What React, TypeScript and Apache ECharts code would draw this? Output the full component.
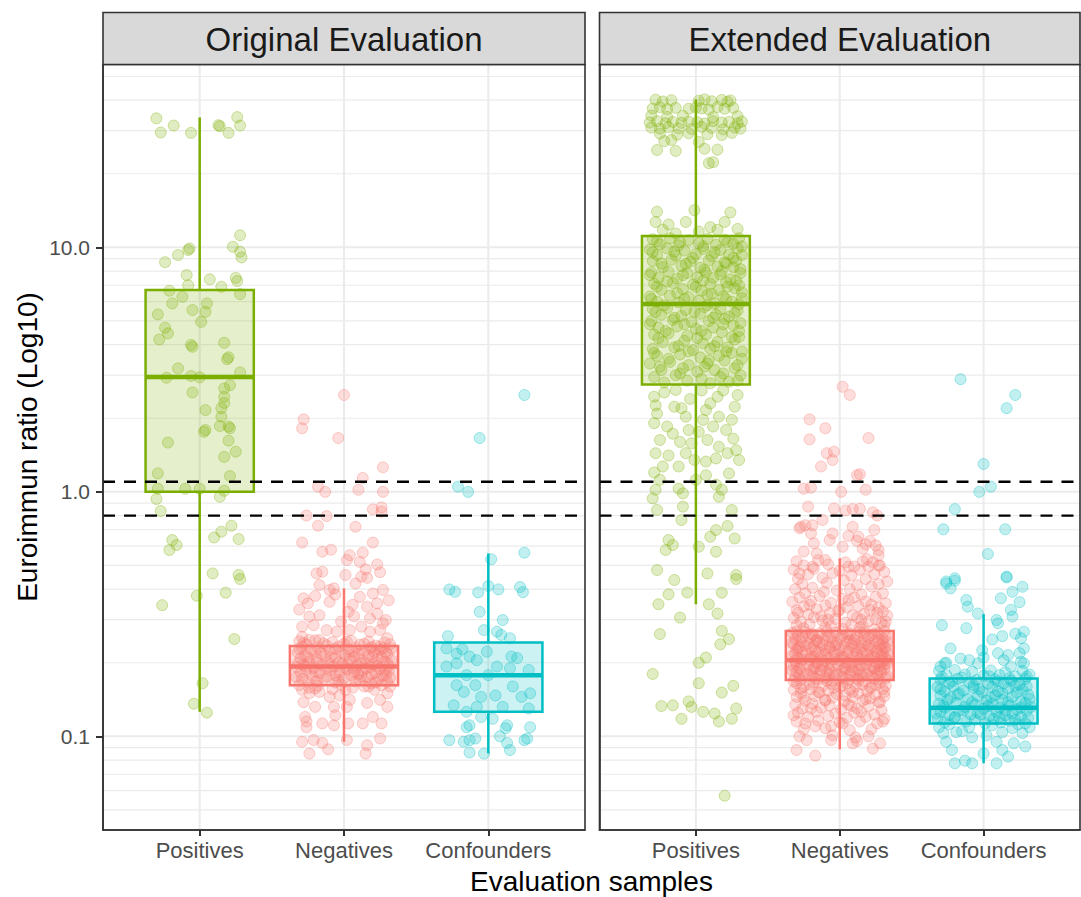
import React, { useEffect, useRef } from "react";
import * as echarts from "echarts";

const panelTitles = ["Original Evaluation", "Extended Evaluation"];
const categories = ["Positives", "Negatives", "Confounders"];
const groupColors = ["#7CAE00", "#F8766D", "#00BFC4"];
const yLimits = [0.0414, 55.97];
const xLimits = [0.33, 3.67];
const yMajorBreaks = [0.1, 1, 10];
const yMinorBreaks = [0.05, 0.06, 0.07, 0.08, 0.09, 0.2, 0.3, 0.4, 0.5, 0.6, 0.7, 0.8, 0.9, 2, 3, 4, 5, 6, 7, 8, 9, 20, 30, 40, 50];
const cutoffLines = [0.8, 1.1];
const xAxisTitle = "Evaluation samples";
const yAxisTitle = "Euroimmun ratio (Log10)";

// [lower whisker, Q1, median, Q3, upper whisker] per category
const originalBoxStats = [
  [0.126, 1.0, 2.95, 6.69, 34.0],
  [0.095, 0.162, 0.193, 0.234, 0.403],
  [0.0852, 0.126, 0.1776, 0.242, 0.56],
];
const extendedBoxStats = [
  [0.347, 2.75, 5.86, 11.13, 40.3],
  [0.0885, 0.17, 0.205, 0.27, 0.535],
  [0.0776, 0.113, 0.131, 0.1726, 0.316],
];

// points: [jitter offset from category centre, ratio]
const origPositives = [
  [-0.30, 33.7], [-0.27, 29.5], [-0.18, 31.5], [-0.06, 29.4], [0.13, 31.6], [0.14, 31.3], [0.20, 29.4], [0.26, 34.1], [0.28, 31.5],
  [0.28, 11.2], [-0.07, 9.9], [-0.08, 9.75], [-0.15, 9.3], [-0.24, 8.7], [0.23, 10.06], [0.28, 9.6], [0.29, 9.1],
  [-0.09, 7.7], [0.07, 7.4], [0.25, 7.5], [0.26, 7.28], [-0.08, 7.0], [0.15, 6.9], [-0.21, 6.65], [0.28, 6.44], [-0.12, 6.28],
  [-0.19, 5.9], [0.05, 5.9], [0.04, 5.45], [-0.05, 5.54], [-0.29, 5.32], [0.01, 4.96], [-0.24, 4.69], [-0.22, 4.45], [-0.28, 4.2],
  [-0.06, 3.99], [-0.05, 3.92], [0.17, 4.07], [0.19, 3.49], [0.20, 3.55], [-0.15, 3.2], [0.28, 3.08], [-0.23, 2.93], [-0.06, 2.98],
  [0.0, 2.94], [0.21, 2.73], [0.17, 2.65], [-0.05, 2.55], [0.17, 2.45], [0.17, 2.31], [0.15, 2.2], [0.04, 2.16], [0.15, 2.03],
  [0.14, 1.86], [0.20, 1.85], [0.21, 1.82], [0.03, 1.76], [0.04, 1.79], [0.20, 1.62], [-0.22, 1.59], [0.25, 1.46], [0.17, 1.39],
  [-0.29, 1.19], [0.21, 1.16], [-0.10, 1.03], [-0.29, 1.03], [0.0, 1.03], [0.17, 1.01], [-0.30, 0.935], [0.14, 0.955], [-0.27, 0.835],
  [0.22, 0.727], [0.15, 0.687], [0.10, 0.651], [0.27, 0.641], [-0.19, 0.635], [-0.16, 0.606], [-0.21, 0.578], [0.09, 0.464],
  [0.27, 0.457], [0.28, 0.44], [-0.02, 0.376], [0.18, 0.387], [-0.26, 0.344], [0.24, 0.25], [0.02, 0.165], [-0.04, 0.136], [0.05, 0.125],
];

const origNegatives = [
  [0.00, 2.49], [-0.28, 1.98], [-0.29, 1.82], [-0.04, 1.66], [-0.18, 1.05], [-0.13, 1.0], [0.10, 1.02], [0.27, 1.26], [0.13, 1.14], [0.27, 1.0],
  [-0.26, 0.80], [-0.12, 0.796], [0.20, 0.848], [0.26, 0.864], [0.26, 0.83], [-0.18, 0.727], [0.08, 0.72], [-0.29, 0.62], [0.20, 0.62],
  [-0.15, 0.569], [-0.09, 0.58], [0.13, 0.564], [0.04, 0.551], [0.02, 0.526], [0.23, 0.505], [0.11, 0.517], [0.15, 0.482], [0.25, 0.469],
  [-0.19, 0.464], [-0.15, 0.471], [0.01, 0.457], [0.12, 0.45], [-0.17, 0.416], [-0.10, 0.397], [-0.07, 0.403], [0.08, 0.422], [0.16, 0.445],
  [0.27, 0.397], [0.20, 0.384], [0.11, 0.372], [-0.28, 0.367], [-0.25, 0.35], [-0.10, 0.355], [0.23, 0.35], [0.16, 0.339], [0.03, 0.323],
  [-0.24, 0.309], [-0.17, 0.313], [0.23, 0.318], [0.29, 0.299], [0.18, 0.304], [-0.29, 0.281], [-0.21, 0.285], [-0.12, 0.272], [-0.05, 0.268],
  [0.04, 0.272], [0.12, 0.281], [0.25, 0.272], [0.18, 0.268], [-0.29, 0.255], [-0.24, 0.248], [-0.17, 0.248], [0.30, 0.252], [0.33, 0.229],
  [-0.02, 0.295], [0.07, 0.31], [-0.31, 0.33], [0.31, 0.36], [-0.06, 0.38], [0.06, 0.345], [-0.20, 0.375], [0.27, 0.29],
  [-0.31, 0.245], [-0.20, 0.247], [-0.08, 0.243], [0.05, 0.246], [0.17, 0.244], [0.28, 0.242],
  [-0.26, 0.238], [-0.12, 0.236], [0.00, 0.239], [0.11, 0.237], [0.22, 0.235], [0.32, 0.238],
  [-0.29, 0.232], [-0.18, 0.231], [-0.04, 0.233], [0.08, 0.23], [0.19, 0.232], [0.27, 0.229],
  [-0.23, 0.226], [-0.10, 0.225], [0.03, 0.227], [0.14, 0.224], [0.25, 0.226],
  [-0.32, 0.22], [-0.16, 0.219], [-0.02, 0.221], [0.10, 0.218], [0.21, 0.22], [0.30, 0.217],
  [-0.27, 0.214], [-0.13, 0.213], [0.01, 0.215], [0.07, 0.212], [0.17, 0.214], [0.26, 0.211],
  [-0.30, 0.208], [-0.19, 0.207], [-0.06, 0.209], [0.12, 0.206], [0.23, 0.208], [0.33, 0.205],
  [-0.24, 0.202], [-0.11, 0.201], [0.04, 0.203], [0.15, 0.2], [0.28, 0.202],
  [-0.28, 0.197], [-0.15, 0.196], [-0.01, 0.198], [0.09, 0.195], [0.20, 0.197], [0.31, 0.194],
  [-0.33, 0.192], [-0.21, 0.191], [-0.07, 0.193], [0.06, 0.19], [0.18, 0.192], [0.25, 0.189],
  [-0.26, 0.187], [-0.09, 0.186], [0.02, 0.188], [0.13, 0.185], [0.29, 0.187],
  [-0.30, 0.182], [-0.17, 0.181], [-0.03, 0.183], [0.10, 0.18], [0.22, 0.182],
  [-0.22, 0.177], [-0.12, 0.176], [0.05, 0.178], [0.16, 0.175], [0.27, 0.177], [0.32, 0.174],
  [-0.29, 0.172], [-0.14, 0.171], [0.00, 0.173], [0.11, 0.17], [0.24, 0.172],
  [-0.25, 0.167], [-0.06, 0.166], [0.08, 0.168], [0.19, 0.165], [0.30, 0.167],
  [-0.31, 0.162], [-0.18, 0.161], [-0.02, 0.163], [0.14, 0.16], [0.26, 0.162],
  [-0.20, 0.157], [-0.08, 0.156], [0.06, 0.158], [0.21, 0.155],
  [-0.28, 0.241], [-0.14, 0.24], [0.02, 0.244], [0.14, 0.239], [0.25, 0.233],
  [-0.31, 0.228], [-0.20, 0.223], [-0.06, 0.228], [0.06, 0.223], [0.18, 0.228], [0.29, 0.222],
  [-0.25, 0.21], [-0.09, 0.211], [0.04, 0.207], [0.20, 0.211], [0.30, 0.2],
  [-0.32, 0.199], [-0.19, 0.2], [-0.04, 0.2], [0.12, 0.199], [0.23, 0.194],
  [-0.27, 0.193], [-0.12, 0.19], [0.00, 0.192], [0.15, 0.19], [0.31, 0.185],
  [-0.20, 0.184], [-0.06, 0.178], [0.07, 0.183], [0.19, 0.179], [0.29, 0.178],
  [-0.33, 0.175], [-0.19, 0.168], [-0.04, 0.17], [0.12, 0.176], [0.22, 0.166],
  [-0.24, 0.158], [0.01, 0.155], [0.17, 0.16], [0.32, 0.16],
  [-0.29, 0.155], [-0.24, 0.15], [-0.17, 0.152], [-0.10, 0.145], [-0.03, 0.147], [0.04, 0.141], [0.30, 0.15], [0.25, 0.141], [0.16, 0.137],
  [0.30, 0.132], [-0.28, 0.138], [-0.20, 0.132], [-0.07, 0.132], [0.02, 0.132], [-0.27, 0.12], [-0.06, 0.122], [0.20, 0.12], [-0.26, 0.115],
  [-0.26, 0.109], [-0.15, 0.113], [-0.07, 0.111], [0.03, 0.113], [0.13, 0.113], [0.26, 0.113], [-0.29, 0.095], [-0.21, 0.0966],
  [-0.15, 0.094], [0.02, 0.0966], [-0.11, 0.0885], [-0.24, 0.085], [0.25, 0.098], [0.16, 0.092], [0.15, 0.085],
];

const origConfounders = [
  [0.25, 2.49], [-0.06, 1.66], [-0.21, 1.05], [-0.14, 1.0], [0.25, 0.564], [0.02, 0.53],
  [-0.27, 0.399], [-0.23, 0.39], [-0.07, 0.388], [0.0, 0.412], [0.07, 0.399], [0.22, 0.408], [0.24, 0.389],
  [-0.06, 0.323], [0.10, 0.299], [-0.03, 0.272], [0.06, 0.268], [0.09, 0.26], [0.15, 0.252], [-0.28, 0.257],
  [-0.29, 0.229], [-0.18, 0.227], [-0.22, 0.218], [-0.13, 0.212], [-0.01, 0.222], [0.16, 0.212], [0.20, 0.209],
  [-0.29, 0.193], [-0.22, 0.199], [-0.08, 0.205], [0.06, 0.193], [0.15, 0.19], [0.28, 0.187], [0.0, 0.178], [-0.15, 0.178],
  [-0.22, 0.162], [-0.09, 0.162], [0.17, 0.16], [0.29, 0.15], [-0.17, 0.152], [0.05, 0.147], [-0.05, 0.145], [0.23, 0.145],
  [0.10, 0.132], [0.28, 0.13], [-0.24, 0.134], [-0.08, 0.132], [-0.15, 0.126], [-0.05, 0.12], [0.03, 0.118],
  [-0.13, 0.111], [-0.15, 0.109], [0.13, 0.111], [0.29, 0.109], [0.12, 0.108],
  [-0.27, 0.0965], [-0.17, 0.095], [-0.13, 0.0965], [-0.09, 0.098], [0.08, 0.1], [0.13, 0.094], [0.25, 0.0965], [0.27, 0.098],
  [-0.13, 0.0859], [-0.03, 0.085], [0.15, 0.0879],
];

const extPositives = [
  [-0.28, 40.2], [-0.23, 39.5], [-0.17, 40.0], [0.02, 39.8], [0.06, 40.3], [0.11, 39.6], [0.18, 40.1], [0.22, 39.4], [0.24, 39.9],
  [-0.30, 37.0], [-0.25, 37.4], [-0.20, 36.8], [-0.14, 37.2], [-0.05, 36.9], [0.00, 37.3], [0.04, 37.0], [0.09, 36.6], [0.15, 37.5], [0.20, 36.9], [0.26, 37.2],
  [-0.31, 34.6], [-0.20, 34.2], [-0.09, 34.5], [0.12, 34.1], [0.29, 34.4],
  [-0.32, 32.4], [-0.27, 32.8], [-0.21, 32.2], [-0.16, 32.6], [-0.10, 32.3], [-0.05, 32.7], [0.01, 32.5], [0.06, 32.1], [0.12, 32.8], [0.18, 32.4], [0.23, 32.6], [0.29, 32.2], [0.32, 32.7],
  [-0.31, 30.9], [-0.25, 30.6], [-0.19, 31.0], [-0.12, 30.7], [-0.03, 30.5], [0.04, 31.1], [0.11, 30.8], [0.19, 30.4], [0.27, 30.9], [0.31, 30.6],
  [-0.25, 29.2], [-0.13, 28.9], [-0.05, 29.3], [0.08, 29.0], [0.18, 28.8], [0.25, 29.4],
  [-0.22, 27.2], [-0.17, 27.5], [0.02, 27.0], [-0.27, 25.0], [-0.14, 24.8], [0.06, 25.3], [0.15, 25.1], [0.09, 22.1], [0.12, 22.3],
  [-0.27, 14.0], [-0.01, 14.2], [0.24, 13.9], [-0.28, 12.7], [-0.19, 12.4], [-0.07, 12.7], [0.10, 12.1], [0.20, 12.7], [0.29, 11.9], [-0.23, 11.8], [-0.14, 11.4], [0.02, 11.6], [0.15, 11.8],
  [-0.30, 10.8], [-0.18, 10.9], [-0.05, 10.7], [0.08, 10.85], [0.20, 10.75], [0.30, 10.9],
  [-0.25, 10.3], [-0.12, 10.2], [0.02, 10.4], [0.14, 10.25], [0.26, 10.35],
  [-0.32, 9.8], [-0.20, 9.9], [-0.08, 9.7], [0.05, 9.85], [0.17, 9.75], [0.29, 9.9],
  [-0.27, 9.3], [-0.14, 9.25], [0.00, 9.4], [0.11, 9.2], [0.23, 9.35], [0.32, 9.3],
  [-0.30, 8.8], [-0.17, 8.9], [-0.04, 8.75], [0.09, 8.85], [0.20, 8.7], [0.28, 8.8],
  [-0.23, 8.3], [-0.10, 8.4], [0.03, 8.25], [0.15, 8.35], [0.26, 8.3],
  [-0.31, 7.9], [-0.19, 7.95], [-0.06, 7.85], [0.07, 7.9], [0.18, 8.0], [0.31, 7.85],
  [-0.26, 7.5], [-0.13, 7.45], [0.01, 7.55], [0.12, 7.5], [0.24, 7.4],
  [-0.29, 7.1], [-0.16, 7.15], [-0.02, 7.05], [0.10, 7.1], [0.21, 7.2], [0.30, 7.0],
  [-0.24, 6.7], [-0.09, 6.75], [0.04, 6.65], [0.16, 6.7], [0.27, 6.8],
  [-0.32, 6.3], [-0.18, 6.35], [-0.05, 6.25], [0.08, 6.4], [0.19, 6.3], [0.32, 6.2],
  [-0.27, 6.0], [-0.12, 5.95], [0.02, 6.05], [0.13, 5.9], [0.25, 6.0],
  [-0.30, 5.6], [-0.20, 5.65], [-0.07, 5.55], [0.06, 5.7], [0.17, 5.6], [0.29, 5.5],
  [-0.24, 5.3], [-0.10, 5.25], [0.03, 5.35], [0.14, 5.3], [0.23, 5.2],
  [-0.31, 5.0], [-0.16, 5.05], [-0.03, 4.95], [0.09, 5.0], [0.20, 5.1], [0.31, 4.9],
  [-0.26, 4.7], [-0.13, 4.75], [0.00, 4.65], [0.12, 4.7], [0.26, 4.8],
  [-0.29, 4.4], [-0.19, 4.45], [-0.06, 4.35], [0.07, 4.4], [0.18, 4.5], [0.30, 4.3],
  [-0.23, 4.1], [-0.08, 4.15], [0.05, 4.05], [0.15, 4.1], [0.27, 4.2],
  [-0.30, 3.85], [-0.15, 3.9], [-0.02, 3.8], [0.10, 3.85], [0.22, 3.9], [0.32, 3.75],
  [-0.27, 3.6], [-0.11, 3.65], [0.03, 3.55], [0.16, 3.6], [0.25, 3.7],
  [-0.32, 3.35], [-0.18, 3.4], [-0.05, 3.3], [0.08, 3.35], [0.20, 3.45], [0.29, 3.3],
  [-0.24, 3.15], [-0.09, 3.2], [0.01, 3.1], [0.13, 3.15], [0.27, 3.2],
  [-0.29, 2.95], [-0.14, 3.0], [0.04, 2.9], [0.17, 2.95], [0.31, 3.0],
  [-0.22, 2.8], [-0.06, 2.85], [0.10, 2.78], [0.23, 2.82],
  [-0.27, 10.6], [-0.11, 10.5], [0.05, 10.1], [0.22, 10.55], [0.32, 10.1],
  [-0.30, 9.55], [-0.15, 9.6], [-0.02, 9.05], [0.13, 9.55], [0.26, 9.05],
  [-0.24, 8.6], [-0.07, 8.55], [0.06, 8.1], [0.21, 8.6], [0.31, 8.15],
  [-0.32, 7.7], [-0.20, 7.25], [-0.09, 7.7], [0.05, 7.3], [0.17, 7.75], [0.28, 7.3],
  [-0.27, 6.9], [-0.13, 6.5], [0.00, 6.9], [0.11, 6.45], [0.22, 6.9], [0.32, 6.55],
  [-0.31, 6.15], [-0.22, 5.8], [-0.08, 6.15], [0.08, 5.8], [0.21, 6.15], [0.30, 5.85],
  [-0.28, 5.45], [-0.15, 5.15], [-0.01, 5.45], [0.12, 5.15], [0.27, 5.4],
  [-0.32, 4.85], [-0.21, 4.55], [-0.08, 4.85], [0.04, 4.55], [0.19, 4.85], [0.30, 4.55],
  [-0.26, 4.25], [-0.12, 3.95], [0.01, 4.25], [0.13, 3.95], [0.25, 4.3],
  [-0.29, 3.7], [-0.19, 3.5], [-0.05, 3.75], [0.09, 3.45], [0.21, 3.75], [0.32, 3.5],
  [-0.25, 3.25], [-0.11, 3.05], [0.06, 3.25], [0.19, 3.05], [0.29, 2.85],
  [-0.29, 2.45], [-0.28, 2.26], [-0.27, 2.09], [-0.29, 1.91], [-0.25, 1.63], [-0.28, 1.44], [-0.19, 1.41], [-0.15, 2.23], [-0.16, 1.73],
  [-0.14, 2.61], [-0.07, 2.03], [-0.05, 1.79], [-0.03, 1.58], [-0.07, 1.44], [-0.01, 1.35], [0.02, 1.76], [0.05, 1.97], [0.07, 2.16],
  [0.08, 1.63], [0.10, 2.3], [0.15, 2.45], [0.16, 2.03], [0.16, 1.53], [0.21, 1.79], [0.22, 1.44], [0.25, 1.97], [0.27, 2.23],
  [0.28, 1.48], [0.29, 2.49], [0.30, 1.35], [0.14, 1.37], [0.07, 1.33], [-0.12, 1.27], [-0.23, 1.27],
  [-0.22, 2.55], [-0.04, 2.4], [0.04, 2.6], [0.19, 2.6], [-0.10, 2.2], [0.12, 1.85], [-0.20, 1.85], [-0.11, 1.6], [0.26, 1.65],
  [-0.29, 1.2], [-0.25, 1.12], [-0.28, 1.02], [-0.30, 0.94], [-0.27, 0.843], [-0.12, 1.03], [-0.09, 0.986], [-0.09, 0.87], [-0.10, 0.767],
  [0.07, 1.17], [0.14, 1.07], [0.18, 1.02], [0.16, 0.955], [0.23, 1.19], [0.25, 0.843], [0.00, 1.12],
  [0.22, 0.725], [0.14, 0.698], [0.10, 0.655], [0.27, 0.645], [-0.19, 0.635], [-0.16, 0.606], [-0.21, 0.578], [0.02, 0.596], [0.14, 0.569],
  [-0.27, 0.479], [-0.15, 0.436], [0.08, 0.464], [0.28, 0.457], [0.28, 0.44], [-0.19, 0.381], [-0.06, 0.388], [0.18, 0.387],
  [-0.26, 0.347], [0.09, 0.347], [0.15, 0.318], [-0.11, 0.306], [-0.25, 0.262], [0.18, 0.27], [0.23, 0.25], [0.17, 0.238],
  [0.07, 0.21], [0.02, 0.2], [-0.30, 0.18], [0.02, 0.165], [0.18, 0.151], [0.26, 0.161],
  [-0.24, 0.133], [-0.16, 0.134], [-0.05, 0.139], [-0.03, 0.132], [0.05, 0.126], [0.13, 0.124], [0.16, 0.115], [0.25, 0.118], [0.28, 0.13],
  [-0.10, 0.118], [0.20, 0.0572],
];

const extNegatives = [
  [0.02, 2.69], [0.07, 2.49], [-0.21, 1.98], [-0.10, 1.82], [-0.21, 1.64], [0.20, 1.66], [-0.09, 1.44], [-0.04, 1.46], [-0.05, 1.35],
  [-0.13, 1.27], [0.12, 1.17], [0.14, 1.18], [-0.25, 1.03], [-0.20, 1.04], [0.01, 1.0], [0.18, 1.02], [-0.22, 0.87], [-0.04, 0.855],
  [0.04, 0.84], [0.09, 0.85], [0.14, 0.853], [0.23, 0.825], [0.26, 0.80], [-0.27, 0.72], [-0.19, 0.73], [-0.12, 0.767], [0.06, 0.66],
  [0.12, 0.63], [0.18, 0.61], [0.21, 0.63], [0.25, 0.605], [0.16, 0.585], [0.27, 0.55], [0.23, 0.515], [0.16, 0.52], [0.27, 0.50],
  [-0.28, 0.71], [-0.24, 0.73], [-0.20, 0.676], [-0.18, 0.616], [-0.25, 0.57], [-0.16, 0.56], [-0.07, 0.635], [-0.05, 0.676],
  [-0.10, 0.526], [-0.19, 0.494], [-0.28, 0.464], [0.06, 0.494], [0.02, 0.596], [0.09, 0.72], [0.13, 0.655], [0.24, 0.698], [0.27, 0.578], [0.20, 0.494],
  [-0.30, 0.52], [-0.15, 0.525], [0.04, 0.515], [0.19, 0.53],
  [-0.25, 0.50], [-0.08, 0.505], [0.10, 0.495], [0.28, 0.5],
  [-0.32, 0.48], [-0.18, 0.485], [0.00, 0.475], [0.14, 0.48], [0.31, 0.47],
  [-0.22, 0.46], [-0.05, 0.465], [0.08, 0.455], [0.24, 0.46],
  [-0.29, 0.44], [-0.12, 0.445], [0.03, 0.435], [0.18, 0.44], [0.33, 0.43],
  [-0.26, 0.42], [-0.09, 0.425], [0.12, 0.415], [0.27, 0.42],
  [-0.31, 0.40], [-0.19, 0.405], [-0.02, 0.395], [0.07, 0.4], [0.22, 0.41],
  [-0.24, 0.385], [-0.11, 0.39], [0.15, 0.38], [0.30, 0.385],
  [-0.28, 0.37], [-0.14, 0.375], [0.02, 0.365], [0.10, 0.37], [0.25, 0.372],
  [-0.33, 0.355], [-0.20, 0.358], [-0.06, 0.352], [0.18, 0.356], [0.32, 0.35],
  [-0.25, 0.34], [-0.10, 0.343], [0.05, 0.337], [0.13, 0.341], [0.27, 0.336],
  [-0.30, 0.328], [-0.16, 0.331], [-0.01, 0.325], [0.21, 0.329], [0.30, 0.324],
  [-0.22, 0.316], [-0.07, 0.319], [0.09, 0.313], [0.17, 0.317], [0.33, 0.312],
  [-0.32, 0.305], [-0.18, 0.307], [-0.03, 0.302], [0.12, 0.306], [0.25, 0.301],
  [-0.27, 0.295], [-0.12, 0.297], [0.04, 0.292], [0.20, 0.296], [0.29, 0.291],
  [-0.30, 0.285], [-0.21, 0.287], [-0.06, 0.283], [0.08, 0.286], [0.16, 0.282], [0.31, 0.284],
  [-0.25, 0.277], [-0.10, 0.279], [0.02, 0.275], [0.14, 0.278], [0.24, 0.274],
  [-0.29, 0.32], [-0.13, 0.31], [0.00, 0.33], [0.15, 0.3], [0.26, 0.32], [-0.21, 0.345], [0.06, 0.36], [0.22, 0.345], [-0.08, 0.3], [0.32, 0.295],
  [-0.33, 0.265], [-0.24, 0.267], [-0.14, 0.264], [-0.03, 0.266], [0.07, 0.263], [0.17, 0.267], [0.27, 0.264],
  [-0.29, 0.258], [-0.19, 0.26], [-0.08, 0.257], [0.02, 0.259], [0.12, 0.256], [0.22, 0.26], [0.32, 0.257],
  [-0.31, 0.251], [-0.21, 0.253], [-0.11, 0.25], [0.00, 0.252], [0.10, 0.249], [0.20, 0.253], [0.30, 0.25],
  [-0.27, 0.244], [-0.16, 0.246], [-0.05, 0.243], [0.05, 0.245], [0.15, 0.242], [0.25, 0.246], [0.33, 0.243],
  [-0.32, 0.238], [-0.22, 0.24], [-0.12, 0.237], [-0.02, 0.239], [0.08, 0.236], [0.18, 0.24], [0.28, 0.237],
  [-0.28, 0.232], [-0.18, 0.234], [-0.07, 0.231], [0.03, 0.233], [0.13, 0.23], [0.23, 0.234], [0.31, 0.231],
  [-0.30, 0.226], [-0.20, 0.228], [-0.10, 0.225], [0.00, 0.227], [0.11, 0.224], [0.21, 0.228], [0.29, 0.225],
  [-0.26, 0.22], [-0.15, 0.222], [-0.04, 0.219], [0.06, 0.221], [0.16, 0.218], [0.26, 0.222], [0.33, 0.219],
  [-0.33, 0.214], [-0.23, 0.216], [-0.13, 0.213], [-0.02, 0.215], [0.09, 0.212], [0.19, 0.216], [0.29, 0.213],
  [-0.29, 0.209], [-0.18, 0.211], [-0.08, 0.208], [0.03, 0.21], [0.14, 0.207], [0.24, 0.211], [0.32, 0.208],
  [-0.31, 0.204], [-0.21, 0.206], [-0.11, 0.203], [0.00, 0.205], [0.10, 0.202], [0.20, 0.206], [0.30, 0.203],
  [-0.27, 0.199], [-0.16, 0.201], [-0.06, 0.198], [0.05, 0.2], [0.15, 0.197], [0.25, 0.201], [0.33, 0.198],
  [-0.32, 0.194], [-0.22, 0.196], [-0.12, 0.193], [-0.01, 0.195], [0.08, 0.192], [0.18, 0.196], [0.28, 0.193],
  [-0.28, 0.189], [-0.17, 0.191], [-0.07, 0.188], [0.04, 0.19], [0.13, 0.187], [0.23, 0.191], [0.31, 0.188],
  [-0.30, 0.184], [-0.20, 0.186], [-0.09, 0.183], [0.01, 0.185], [0.11, 0.182], [0.21, 0.186], [0.29, 0.183],
  [-0.25, 0.179], [-0.14, 0.181], [-0.04, 0.178], [0.07, 0.18], [0.16, 0.177], [0.26, 0.181],
  [-0.31, 0.174], [-0.19, 0.176], [-0.10, 0.173], [0.02, 0.175], [0.12, 0.172], [0.22, 0.176], [0.32, 0.173],
  [-0.27, 0.17], [-0.15, 0.171], [-0.05, 0.169], [0.06, 0.17], [0.17, 0.168], [0.27, 0.171],
  [-0.30, 0.268], [-0.19, 0.262], [-0.09, 0.269], [0.05, 0.261], [0.14, 0.268], [0.24, 0.262], [0.31, 0.27],
  [-0.26, 0.255], [-0.16, 0.248], [-0.06, 0.254], [0.07, 0.247], [0.17, 0.255], [0.27, 0.248],
  [-0.33, 0.241], [-0.24, 0.235], [-0.14, 0.242], [-0.03, 0.235], [0.10, 0.241], [0.20, 0.235], [0.30, 0.242],
  [-0.29, 0.229], [-0.17, 0.223], [-0.07, 0.23], [0.05, 0.223], [0.15, 0.229], [0.25, 0.223], [0.32, 0.23],
  [-0.31, 0.217], [-0.20, 0.211], [-0.10, 0.218], [0.01, 0.211], [0.12, 0.217], [0.22, 0.211], [0.30, 0.218],
  [-0.26, 0.206], [-0.15, 0.2], [-0.04, 0.207], [0.07, 0.2], [0.17, 0.206], [0.27, 0.2], [0.33, 0.205],
  [-0.30, 0.196], [-0.18, 0.19], [-0.08, 0.197], [0.03, 0.19], [0.14, 0.196], [0.24, 0.19], [0.31, 0.197],
  [-0.33, 0.186], [-0.23, 0.18], [-0.13, 0.187], [-0.02, 0.18], [0.09, 0.186], [0.19, 0.18], [0.28, 0.187],
  [-0.28, 0.177], [-0.17, 0.172], [-0.07, 0.178], [0.04, 0.172], [0.14, 0.178], [0.24, 0.172], [0.33, 0.176],
  [-0.32, 0.168], [-0.21, 0.163], [-0.09, 0.169], [0.02, 0.162], [0.13, 0.169], [0.25, 0.163],
  [-0.27, 0.157], [-0.15, 0.152], [-0.04, 0.158], [0.09, 0.152], [0.21, 0.158], [0.31, 0.152],
  [-0.30, 0.165], [-0.18, 0.166], [-0.06, 0.164], [0.05, 0.165], [0.16, 0.163], [0.28, 0.166],
  [-0.25, 0.16], [-0.12, 0.161], [0.00, 0.159], [0.11, 0.16], [0.22, 0.158], [0.32, 0.161],
  [-0.32, 0.155], [-0.20, 0.156], [-0.08, 0.154], [0.07, 0.155], [0.19, 0.153], [0.30, 0.156],
  [-0.27, 0.15], [-0.14, 0.151], [-0.02, 0.149], [0.13, 0.15], [0.25, 0.148],
  [-0.30, 0.145], [-0.17, 0.146], [-0.05, 0.144], [0.09, 0.145], [0.21, 0.143], [0.31, 0.146],
  [-0.24, 0.14], [-0.10, 0.141], [0.03, 0.139], [0.16, 0.14], [0.27, 0.138],
  [-0.25, 0.145], [-0.10, 0.14], [0.04, 0.147], [0.18, 0.142], [0.28, 0.138], [-0.20, 0.13], [0.08, 0.133], [-0.32, 0.122], [0.15, 0.126],
  [-0.31, 0.135], [-0.19, 0.136], [-0.07, 0.134], [0.06, 0.135], [0.20, 0.133],
  [-0.26, 0.13], [-0.13, 0.131], [0.01, 0.129], [0.12, 0.13], [0.29, 0.128],
  [-0.29, 0.125], [-0.16, 0.126], [-0.03, 0.124], [0.10, 0.125], [0.24, 0.123],
  [-0.22, 0.12], [-0.08, 0.121], [0.05, 0.119], [0.18, 0.12], [0.31, 0.118],
  [-0.30, 0.115], [-0.15, 0.116], [0.00, 0.114], [0.14, 0.115], [0.26, 0.113],
  [-0.25, 0.107], [-0.10, 0.108], [0.07, 0.106], [0.22, 0.107],
  [-0.28, 0.1], [-0.05, 0.101], [0.11, 0.099], [0.20, 0.1],
  [-0.30, 0.0879], [-0.23, 0.0966], [-0.17, 0.0834], [-0.06, 0.0966], [0.09, 0.0936], [0.12, 0.0957], [0.23, 0.089], [0.28, 0.0936],
  [0.30, 0.115], [-0.24, 0.113], [-0.17, 0.11], [0.02, 0.113], [-0.06, 0.11],
];

const extConfounders = [
  [-0.16, 2.89], [0.22, 2.49], [0.16, 2.2], [0.0, 1.3], [0.05, 1.05], [-0.03, 1.0], [-0.20, 0.85], [-0.28, 0.703], [0.15, 0.703],
  [0.03, 0.557], [0.16, 0.45], [-0.20, 0.443], [-0.26, 0.43],
  [-0.26, 0.422], [-0.23, 0.403], [-0.20, 0.433], [0.16, 0.447], [0.27, 0.409], [0.20, 0.39], [0.12, 0.367], [0.19, 0.329],
  [-0.12, 0.361], [-0.11, 0.339], [-0.04, 0.318], [0.25, 0.354], [0.09, 0.299], [0.10, 0.29], [0.20, 0.309], [-0.29, 0.285],
  [-0.12, 0.277], [0.06, 0.249], [0.13, 0.257], [0.22, 0.263], [0.28, 0.268], [0.26, 0.252], [-0.23, 0.229], [-0.01, 0.225],
  [0.10, 0.219], [0.17, 0.215], [0.25, 0.219], [0.28, 0.229], [0.26, 0.202], [-0.27, 0.199], [-0.30, 0.193], [-0.16, 0.208],
  [-0.10, 0.205], [-0.04, 0.199], [0.19, 0.193], [0.28, 0.199],
  [-0.31, 0.185], [-0.20, 0.187], [-0.08, 0.184], [0.05, 0.186], [0.15, 0.183], [0.27, 0.185],
  [-0.26, 0.178], [-0.13, 0.179], [0.00, 0.177], [0.11, 0.178], [0.22, 0.176], [0.32, 0.179],
  [-0.30, 0.171], [-0.18, 0.172], [-0.05, 0.17], [0.08, 0.171], [0.19, 0.169], [0.29, 0.172],
  [-0.24, 0.165], [-0.10, 0.166], [0.03, 0.164], [0.14, 0.165], [0.25, 0.163],
  [-0.32, 0.159], [-0.21, 0.16], [-0.07, 0.158], [0.06, 0.159], [0.17, 0.157], [0.30, 0.16],
  [-0.27, 0.153], [-0.14, 0.154], [-0.01, 0.152], [0.10, 0.153], [0.23, 0.151],
  [-0.30, 0.147], [-0.18, 0.148], [-0.04, 0.146], [0.08, 0.147], [0.20, 0.145], [0.31, 0.148],
  [-0.25, 0.141], [-0.11, 0.142], [0.02, 0.14], [0.13, 0.141], [0.26, 0.139],
  [-0.31, 0.136], [-0.19, 0.137], [-0.06, 0.135], [0.06, 0.136], [0.18, 0.134], [0.29, 0.137],
  [-0.27, 0.131], [-0.13, 0.132], [0.00, 0.13], [0.11, 0.131], [0.23, 0.129], [0.33, 0.132],
  [-0.30, 0.126], [-0.17, 0.127], [-0.04, 0.125], [0.09, 0.126], [0.20, 0.124], [0.30, 0.127],
  [-0.24, 0.122], [-0.09, 0.123], [0.04, 0.121], [0.15, 0.122], [0.26, 0.12],
  [-0.32, 0.118], [-0.20, 0.119], [-0.06, 0.117], [0.07, 0.118], [0.18, 0.116], [0.31, 0.119],
  [-0.27, 0.114], [-0.12, 0.115], [0.01, 0.113], [0.12, 0.114], [0.24, 0.112],
  [-0.29, 0.175], [-0.15, 0.174], [0.04, 0.176], [0.18, 0.173], [0.30, 0.176],
  [-0.22, 0.168], [-0.07, 0.162], [0.10, 0.168], [0.22, 0.161],
  [-0.30, 0.156], [-0.17, 0.15], [-0.03, 0.156], [0.13, 0.15], [0.27, 0.155],
  [-0.23, 0.144], [-0.08, 0.138], [0.05, 0.144], [0.17, 0.138], [0.32, 0.142],
  [-0.28, 0.133], [-0.14, 0.128], [0.03, 0.133], [0.15, 0.128], [0.26, 0.131],
  [-0.33, 0.124], [-0.20, 0.12], [-0.02, 0.123], [0.11, 0.12], [0.22, 0.117],
  [-0.24, 0.112], [-0.10, 0.109], [0.06, 0.111], [0.20, 0.108], [0.29, 0.113],
  [-0.15, 0.105], [0.13, 0.104], [-0.26, 0.2], [0.14, 0.205], [0.00, 0.21],
  [-0.31, 0.109], [-0.28, 0.103], [-0.26, 0.095], [-0.22, 0.0879], [-0.20, 0.0776], [-0.13, 0.0795], [-0.08, 0.0776], [0.0, 0.085],
  [0.09, 0.0776], [0.13, 0.0879], [0.17, 0.0826], [0.21, 0.0937], [0.29, 0.0909], [0.09, 0.095], [0.02, 0.101], [-0.08, 0.099],
  [-0.19, 0.104], [0.27, 0.103], [0.32, 0.109],
];

const FONT = '"Liberation Sans", Arial, Helvetica, sans-serif';
const lg = (v: number) => Math.log10(v);
function withAlpha(hex: string, a: number) {
  const n = parseInt(hex.slice(1), 16);
  return `rgba(${(n >> 16) & 255},${(n >> 8) & 255},${n & 255},${a})`;
}

export default function App() {
  const ref = useRef<HTMLDivElement>(null);

  useEffect(() => {
    if (!ref.current) return;
    const chart = echarts.init(ref.current, null, { renderer: "svg" });

    const panels = [
      { boxes: originalBoxStats, points: [origPositives, origNegatives, origConfounders] },
      { boxes: extendedBoxStats, points: [extPositives, extNegatives, extConfounders] },
    ];
    const rects = [
      { left: 103, top: 64.5, width: 482, height: 765.5 },
      { left: 599.5, top: 64.5, width: 480.5, height: 765.5 },
    ];
    const stripTop = 12.5;
    const stripH = 52;
    const boxHalf = 0.375;

    const series: any[] = [];
    panels.forEach((panel, p) => {
      series.push({
        type: "custom",
        xAxisIndex: p,
        yAxisIndex: p,
        silent: true,
        z: 0,
        encode: { x: 0, y: 1 },
        data: [
          ...yMinorBreaks.map((b) => [xLimits[0], lg(b), 0]),
          ...yMajorBreaks.map((b) => [xLimits[0], lg(b), 1]),
          ...categories.map((_, i) => [i + 1, lg(yLimits[0]), 2]),
        ],
        renderItem: (params: any, api: any) => {
          const cs = params.coordSys;
          const kind = api.value(2);
          const pt = api.coord([api.value(0), api.value(1)]);
          if (kind === 2) {
            return {
              type: "line",
              shape: { x1: pt[0], y1: cs.y, x2: pt[0], y2: cs.y + cs.height },
              style: { stroke: "#EBEBEB", lineWidth: 2 },
            };
          }
          return {
            type: "line",
            shape: { x1: cs.x, y1: pt[1], x2: cs.x + cs.width, y2: pt[1] },
            style: { stroke: "#EBEBEB", lineWidth: kind === 1 ? 2 : 1.2 },
          };
        },
      });
      series.push({
        type: "custom",
        xAxisIndex: p,
        yAxisIndex: p,
        silent: true,
        z: 1,
        encode: { x: 0, y: [1, 2, 3, 4, 5] },
        data: panel.boxes.map((s, i) => [i + 1, lg(s[0]), lg(s[1]), lg(s[2]), lg(s[3]), lg(s[4]), i]),
        renderItem: (params: any, api: any) => {
          const x = api.value(0);
          const c = groupColors[api.value(6)];
          const lw = api.coord([x, api.value(1)]);
          const q1 = api.coord([x, api.value(2)]);
          const med = api.coord([x, api.value(3)]);
          const q3 = api.coord([x, api.value(4)]);
          const uw = api.coord([x, api.value(5)]);
          const left = api.coord([x - boxHalf, api.value(4)]);
          const right = api.coord([x + boxHalf, api.value(2)]);
          return {
            type: "group",
            children: [
              { type: "line", shape: { x1: q3[0], y1: q3[1], x2: uw[0], y2: uw[1] }, style: { stroke: c, lineWidth: 2.5 } },
              { type: "line", shape: { x1: q1[0], y1: q1[1], x2: lw[0], y2: lw[1] }, style: { stroke: c, lineWidth: 2.5 } },
              {
                type: "rect",
                shape: { x: left[0], y: left[1], width: right[0] - left[0], height: right[1] - left[1] },
                style: { fill: withAlpha(c, 0.2), stroke: c, lineWidth: 2.5 },
              },
              { type: "line", shape: { x1: left[0], y1: med[1], x2: right[0], y2: med[1] }, style: { stroke: c, lineWidth: 4.5 } },
            ],
          };
        },
      });
      panel.points.forEach((pts, i) => {
        series.push({
          type: "scatter",
          xAxisIndex: p,
          yAxisIndex: p,
          silent: true,
          z: 2,
          symbol: "circle",
          symbolSize: 11,
          itemStyle: {
            color: withAlpha(groupColors[i], 0.3),
            borderColor: withAlpha(groupColors[i], 0.42),
            borderWidth: 1,
          },
          data: pts.map((d) => [i + 1 + d[0], lg(d[1])]),
        });
      });
      series.push({
        type: "custom",
        xAxisIndex: p,
        yAxisIndex: p,
        silent: true,
        z: 4,
        encode: { x: 0, y: 1 },
        data: cutoffLines.map((c) => [xLimits[0], lg(c)]),
        renderItem: (params: any, api: any) => {
          const cs = params.coordSys;
          const pt = api.coord([api.value(0), api.value(1)]);
          return {
            type: "line",
            shape: { x1: cs.x, y1: pt[1], x2: cs.x + cs.width, y2: pt[1] },
            style: { stroke: "#000000", lineWidth: 2.3, lineDash: [12, 9] },
          };
        },
      });
    });

    const graphic: any[] = [];
    rects.forEach((r, p) => {
      graphic.push({
        type: "rect",
        z: 100,
        shape: { x: r.left, y: r.top, width: r.width, height: r.height },
        style: { fill: "none", stroke: "#333333", lineWidth: 1.6 },
        silent: true,
      });
      graphic.push({
        type: "rect",
        z: 100,
        shape: { x: r.left, y: stripTop, width: r.width, height: stripH },
        style: { fill: "#D9D9D9", stroke: "#333333", lineWidth: 1.6 },
        silent: true,
      });
      graphic.push({
        type: "text",
        z: 101,
        x: r.left + r.width / 2,
        y: stripTop + stripH / 2 + 1,
        silent: true,
        style: {
          text: panelTitles[p],
          fontSize: 33,
          fontFamily: FONT,
          fill: "#1A1A1A",
          textAlign: "center",
          align: "center",
          textVerticalAlign: "middle",
          verticalAlign: "middle",
        },
      });
    });
    graphic.push({
      type: "text",
      z: 101,
      x: 591.5,
      y: 881,
      silent: true,
      style: {
        text: xAxisTitle,
        fontSize: 28,
        fontFamily: FONT,
        fill: "#000000",
        textAlign: "center",
        align: "center",
        textVerticalAlign: "middle",
        verticalAlign: "middle",
      },
    });
    graphic.push({
      type: "text",
      z: 101,
      x: 27,
      y: 447,
      rotation: Math.PI / 2,
      silent: true,
      style: {
        text: yAxisTitle,
        fontSize: 28,
        fontFamily: FONT,
        fill: "#000000",
        textAlign: "center",
        align: "center",
        textVerticalAlign: "middle",
        verticalAlign: "middle",
      },
    });

    const xTickVals = categories.map((_, i) => i + 1);
    const yTickVals = yMajorBreaks.map(lg);

    chart.setOption({
      animation: false,
      backgroundColor: "#FFFFFF",
      grid: rects.map((r) => ({ ...r, containLabel: false, show: false })),
      xAxis: rects.map((_, p) => ({
        type: "value",
        gridIndex: p,
        position: "bottom",
        min: xLimits[0],
        max: xLimits[1],
        splitLine: { show: false },
        axisLine: { show: true, onZero: false, lineStyle: { color: "#333333", width: 1.6 } },
        axisTick: { show: true, customValues: xTickVals, length: 6, lineStyle: { color: "#333333", width: 2 } },
        axisLabel: {
          customValues: xTickVals,
          formatter: (v: number) => categories[Math.round(v) - 1] ?? "",
          fontSize: 22,
          fontFamily: FONT,
          color: "#4D4D4D",
          margin: 9,
        },
      })),
      yAxis: rects.map((_, p) => ({
        type: "value",
        gridIndex: p,
        position: "left",
        min: lg(yLimits[0]),
        max: lg(yLimits[1]),
        splitLine: { show: false },
        axisLine: { show: true, onZero: false, lineStyle: { color: "#333333", width: 1.6 } },
        axisTick: { show: p === 0, customValues: yTickVals, length: 7, lineStyle: { color: "#333333", width: 2 } },
        axisLabel: {
          show: p === 0,
          customValues: yTickVals,
          formatter: (v: number) => Math.pow(10, v).toFixed(1),
          fontSize: 21,
          fontFamily: FONT,
          color: "#4D4D4D",
          margin: 13,
        },
      })),
      series,
      graphic,
    });

    return () => {
      chart.dispose();
    };
  }, []);

  return (
    <div
      ref={ref}
      style={{ position: "fixed", left: 0, top: 0, width: 1081, height: 897, background: "#FFFFFF" }}
    />
  );
}
